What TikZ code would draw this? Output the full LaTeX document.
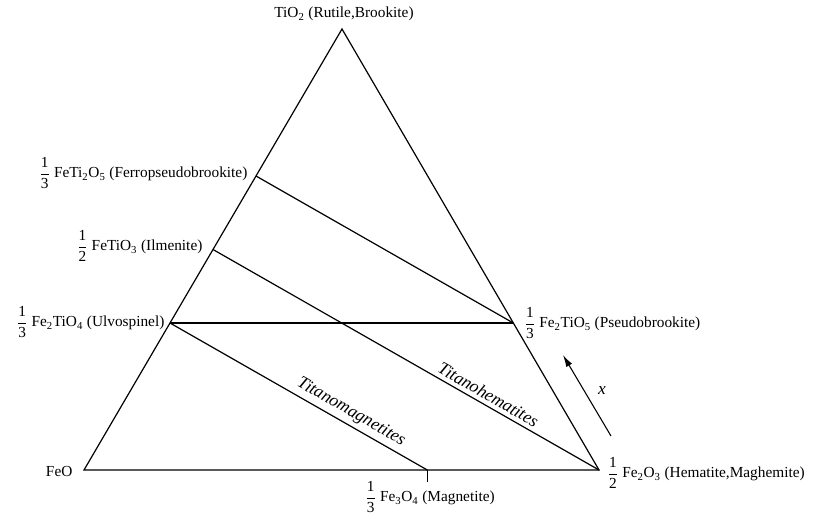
\documentclass[tikz,border=0pt]{standalone}
\usepackage{fontspec}
\setmainfont{Liberation Serif}
\usepackage{amsmath}
\usetikzlibrary{arrows.meta,calc}
\newcommand\fr[2]{$\dfrac{\mbox{#1}}{\mbox{#2}}$}
\begin{document}
\begin{tikzpicture}[x=0.75pt,y=-0.75pt, line width=0.9pt,
  lbl/.style={inner sep=0pt, font=\fontsize{11.5}{13}\selectfont},
  mineral/.style={font=\fontsize{13.2}{15}\selectfont\itshape, sloped, above, inner sep=3pt}]
\useasboundingbox (0,0) rectangle (818,517);
\coordinate (FeO) at (84,470);
\coordinate (Hem) at (599,470);
\coordinate (Ti) at (342,29);
\coordinate (Ulv) at ($(FeO)!1/3!(Ti)$);
\coordinate (Ilm) at ($(FeO)!1/2!(Ti)$);
\coordinate (Fps) at ($(FeO)!2/3!(Ti)$);
\coordinate (Pb) at ($(Hem)!1/3!(Ti)$);
\coordinate (Mag) at ($(FeO)!2/3!(Hem)$);
\coordinate (MagT) at ($(Mag)+(0,12)$);
\draw (FeO) -- (Hem) -- (Ti) -- cycle;
\draw (Ulv) -- (Pb);
\draw (Fps) -- (Pb);
\draw (Ilm) -- node[mineral, pos=0.70]{Titanohematites} (Hem);
\draw (Ulv) -- node[mineral, pos=0.68]{Titanomagnetites} (Mag);
\draw (Mag) -- (MagT);
\coordinate (xa) at (611,436);
\coordinate (xb) at (563,355);
\draw[-{Latex[length=9pt,width=5pt]}, line width=0.8pt] (xa) -- (xb);
\node[lbl, font=\fontsize{13}{15}\selectfont\itshape] (xl) at (602,391) {x};
\node[lbl, anchor=center] (lTi) at (344,14) {TiO\textsubscript{2} (Rutile,Brookite)};
\node[lbl, anchor=east] (lFps) at (248,173) {\fr13 FeTi\textsubscript{2}O\textsubscript{5} (Ferropseudobrookite)};
\node[lbl, anchor=east] (lIlm) at (203,246) {\fr12 FeTiO\textsubscript{3} (Ilmenite)};
\node[lbl, anchor=east] (lUlv) at (165,322) {\fr13 Fe\textsubscript{2}TiO\textsubscript{4} (Ulvospinel)};
\node[lbl, anchor=west] (lPb) at (524,323) {\fr13 Fe\textsubscript{2}TiO\textsubscript{5} (Pseudobrookite)};
\node[lbl, anchor=west] (lHem) at (607,473) {\fr12 Fe\textsubscript{2}O\textsubscript{3} (Hematite,Maghemite)};
\node[lbl, anchor=center] (lMag) at (430,497) {\fr13 Fe\textsubscript{3}O\textsubscript{4} (Magnetite)};
\node[lbl, anchor=east] (lFeO) at (73,471) {FeO};
\end{tikzpicture}
\end{document}
